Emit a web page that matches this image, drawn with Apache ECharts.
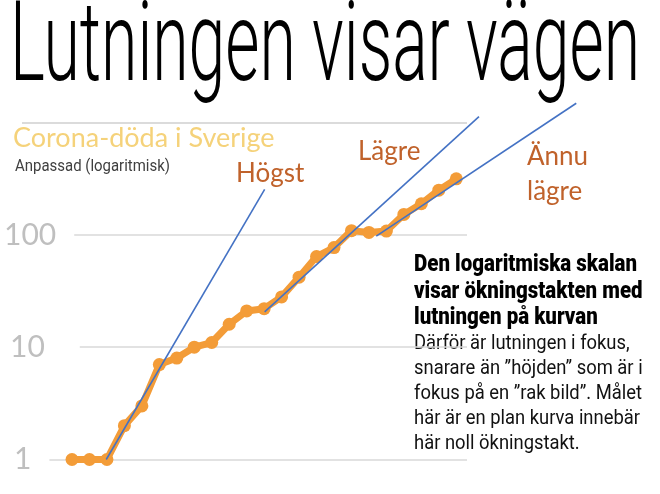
<!DOCTYPE html>
<html>
<head>
<meta charset="utf-8">
<script src="https://cdn.jsdelivr.net/npm/echarts@6/dist/echarts.min.js"></script>
<style>
  html, body { margin: 0; padding: 0; background: #fff; }
  #chart { width: 660px; height: 494px; }
</style>
</head>
<body>
<div id="chart"></div>
<script>
// döda (kumulativt) per dag
var days = [1, 2, 3, 4, 5, 6, 7, 8, 9, 10, 11, 12, 13, 14, 15, 16, 17, 18, 19, 20, 21, 22, 23];
var deaths = [1, 1, 1, 2, 3, 7, 8, 10, 11, 16, 21, 22, 28, 42, 64, 77, 109, 105, 108, 152, 189, 250, 315];

// lutningslinjer [dag, värde]
var trendHogst = [[2.96, 1], [12.03, 254]];
var trendLagre = [[12.03, 20.6], [24.3, 1127]];
var trendAnnu = [[18.42, 97.5], [29.87, 1483]];

var yTicks = ['1', '10', '100'];

var chart = echarts.init(document.getElementById('chart'));

// mät textbredd så att smala rubriker kan klämmas ihop med scaleX
var ctx = document.createElement('canvas').getContext('2d');
function fitText(text, font, x, y, width, color) {
    ctx.font = font;
    var w = ctx.measureText(text).width;
    return {
        type: 'text', x: x, y: y, scaleX: width / w,
        style: { text: text, font: font, fill: color, align: 'left', verticalAlign: 'middle' }
    };
}

var orangeData = [];
for (var i = 0; i < days.length; i++) {
    orangeData.push([days[i], deaths[i]]);
}

var blue = '#4472C4';
var brown = '#C0622B';

var graphics = [
    fitText('Lutningen visar vägen', '300 112px Roboto', 10, 52, 630, '#000'),
    { type: 'text', x: 13, y: 138, style: { text: 'Corona-döda i Sverige', fill: '#F5D27A', font: '27px Lato', verticalAlign: 'middle' } },
    fitText('Anpassad (logaritmisk)', '17px Roboto', 15, 166.5, 155, '#404040'),
    { type: 'text', x: 236, y: 174, style: { text: 'Högst', fill: brown, font: '26px Lato', verticalAlign: 'middle' } },
    { type: 'text', x: 358, y: 152, style: { text: 'Lägre', fill: brown, font: '26px Lato', verticalAlign: 'middle' } },
    { type: 'text', x: 527, y: 157, style: { text: 'Ännu', fill: brown, font: '26px Lato', verticalAlign: 'middle' } },
    { type: 'text', x: 527, y: 192, style: { text: 'lägre', fill: brown, font: '26px Lato', verticalAlign: 'middle' } }
];

var boldLines = ['Den logaritmiska skalan', 'visar ökningstakten med', 'lutningen på kurvan'];
var boldY = [265, 292, 318.5];
ctx.font = '900 23px Roboto';
var boldScale = 223 / ctx.measureText(boldLines[0]).width;
boldLines.forEach(function (t, k) {
    graphics.push({
        type: 'text', x: 414, y: boldY[k], scaleX: boldScale,
        style: { text: t, font: '900 23px Roboto', fill: '#000', verticalAlign: 'middle' }
    });
});

var bodyLines = ['Därför är lutningen i fokus,', 'snarare än ”höjden” som är i', 'fokus på en ”rak bild”. Målet', 'här är en plan kurva innebär', 'här noll ökningstakt.'];
ctx.font = '20px Roboto';
var bodyScale = 226 / ctx.measureText(bodyLines[3]).width;
bodyLines.forEach(function (t, k) {
    graphics.push({
        type: 'text', x: 414, y: 344 + k * 25, scaleX: bodyScale,
        style: { text: t, font: '20px Roboto', fill: '#111', verticalAlign: 'middle' }
    });
});

var tickStyle = { color: '#bfbfbf', fontSize: 30, fontFamily: 'Lato', backgroundColor: '#fff' };

chart.setOption({
    animation: false,
    grid: [
        { left: 72, top: 122.5, width: 524, height: 337, outerBoundsMode: 'none' },
        { left: 22, top: 122.5, width: 445, height: 337, outerBoundsMode: 'none' }
    ],
    xAxis: [
        { gridIndex: 0, type: 'value', min: 1, max: 31, show: false },
        { gridIndex: 1, type: 'value', min: 0, max: 1, show: false }
    ],
    yAxis: [
        { gridIndex: 0, type: 'log', logBase: 10, min: 1, max: 1000, show: false },
        {
            gridIndex: 1, type: 'log', logBase: 10, min: 1, max: 1000.5,
            axisLine: { show: false },
            axisTick: { show: false },
            splitLine: { show: true, showMaxLine: true, lineStyle: { color: '#d9d9d9', width: 1.5 } },
            axisLabel: {
                inside: true,
                margin: -22,
                align: 'left',
                formatter: function (v) {
                    var k = yTicks.indexOf(String(Math.round(v)));
                    return k >= 0 ? '{t' + k + '|' + yTicks[k] + '}' : ' ';
                },
                rich: {
                    t0: Object.assign({ padding: [0, 18, 0, 14] }, tickStyle),
                    t1: Object.assign({ padding: [0, 35, 0, 10] }, tickStyle),
                    t2: Object.assign({ padding: [0, 18, 0, 4] }, tickStyle)
                }
            }
        }
    ],
    series: [
        {
            type: 'line',
            xAxisIndex: 0, yAxisIndex: 0,
            data: orangeData,
            symbol: 'circle',
            symbolSize: 13,
            clip: false,
            itemStyle: { color: '#F39C38' },
            lineStyle: { color: '#F39C38', width: 7 },
            z: 3
        },
        {
            type: 'line', xAxisIndex: 0, yAxisIndex: 0,
            data: trendHogst, symbol: 'none', clip: false,
            lineStyle: { color: blue, width: 1.6 }, z: 4
        },
        {
            type: 'line', xAxisIndex: 0, yAxisIndex: 0,
            data: trendLagre, symbol: 'none', clip: false,
            lineStyle: { color: blue, width: 1.6 }, z: 4
        },
        {
            type: 'line', xAxisIndex: 0, yAxisIndex: 0,
            data: trendAnnu, symbol: 'none', clip: false,
            lineStyle: { color: blue, width: 1.6 }, z: 4
        }
    ],
    graphic: graphics
});
</script>
</body>
</html>
